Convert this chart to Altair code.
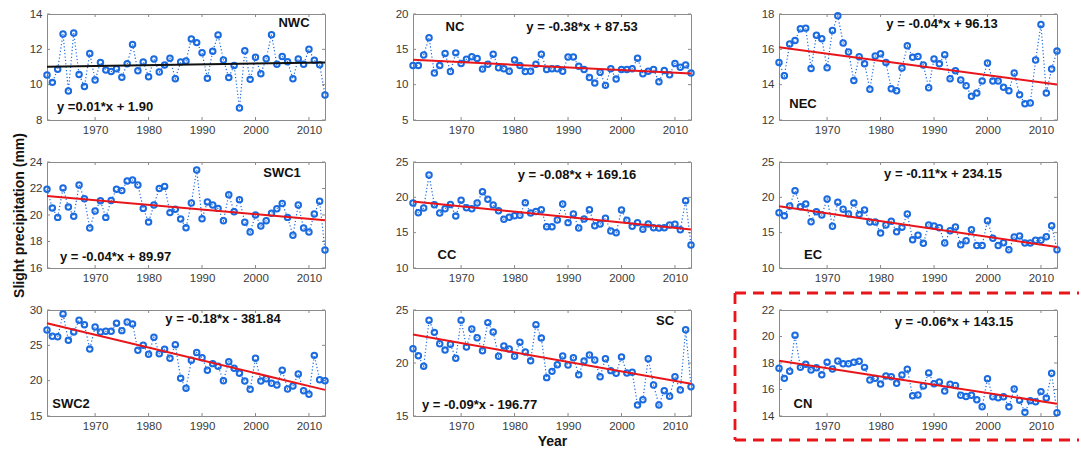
import altair as alt
import pandas as pd

years = list(range(1961, 2014))

nwc = [10.55, 10.13, 10.87, 12.87, 9.64, 12.92, 10.57, 9.89, 11.77, 10.26,
       11.25, 10.83, 10.74, 10.9, 10.42, 11.19, 12.28, 10.79, 11.28, 10.45,
       11.45, 10.72, 11.11, 11.49, 10.34, 11.28, 11.34, 12.58, 12.38, 11.81,
       10.36, 11.89, 12.81, 11.4, 10.4, 11.09, 8.68, 11.92, 10.3, 11.55,
       10.62, 11.47, 12.83, 11.15, 11.6, 11.3, 10.34, 11.45, 11.15, 12.0,
       11.38, 11.13, 9.42]
nc = [12.7, 12.7, 14.2, 16.65, 11.65, 12.7, 14.4, 11.85, 14.5, 13.0,
      13.6, 13.95, 13.7, 12.2, 12.9, 14.3, 12.4, 12.25, 11.9, 13.5,
      12.7, 11.85, 11.9, 12.9, 14.3, 12.15, 12.25, 12.25, 11.9, 13.9,
      13.9, 12.6, 12.15, 11.0, 10.25, 11.75, 9.9, 12.25, 10.8, 12.15,
      12.15, 12.25, 13.75, 11.55, 11.9, 12.15, 10.4, 12.0, 11.4, 13.0,
      12.45, 12.8, 11.65]
nec = [15.25, 14.5, 16.3, 16.5, 17.17, 17.2, 14.92, 16.8, 16.6, 14.96,
       17.06, 17.9, 16.36, 15.85, 14.23, 15.58, 15.19, 13.74, 15.62, 15.75,
       15.25, 13.77, 13.66, 14.94, 16.2, 15.55, 15.6, 15.11, 13.83, 15.45,
       15.19, 15.7, 14.34, 14.79, 14.26, 13.94, 13.34, 13.53, 14.21, 15.23,
       14.21, 14.21, 13.85, 13.66, 14.66, 13.43, 12.92, 12.96, 15.4, 17.4,
       13.53, 14.89, 15.9]
swc1 = [21.94, 20.53, 19.82, 22.04, 20.6, 19.9, 22.26, 21.23, 19.02, 20.3,
        21.08, 19.82, 21.1, 21.94, 21.84, 22.57, 22.64, 22.26, 20.5, 19.47,
        20.75, 22.0, 22.16, 20.18, 20.43, 19.7, 19.04, 20.9, 23.4, 19.72,
        20.98, 20.75, 20.5, 19.57, 21.53, 20.25, 21.16, 19.45, 18.72, 20.0,
        19.17, 19.57, 20.13, 20.48, 20.86, 19.82, 18.47, 20.75, 19.02, 18.72,
        20.08, 21.03, 17.36]
cc = [19.2, 17.83, 18.49, 23.16, 18.96, 17.78, 18.4, 19.0, 17.36, 19.58,
      18.54, 18.4, 19.2, 20.8, 19.72, 18.92, 18.11, 16.89, 17.17, 17.4,
      17.45, 19.25, 17.78, 18.0, 18.25, 15.85, 15.85, 16.79, 19.06, 16.42,
      17.64, 15.66, 16.93, 18.25, 15.99, 16.23, 17.03, 15.24, 15.0, 18.2,
      16.75, 15.9, 16.42, 15.47, 16.23, 15.7, 15.66, 15.7, 16.08, 16.18,
      15.42, 19.53, 13.25]
ec = [17.83, 17.4, 18.77, 20.94, 18.68, 19.06, 16.56, 17.97, 17.5, 19.76,
      15.9, 19.29, 18.3, 17.64, 19.2, 17.59, 18.2, 16.5, 16.5, 14.95,
      16.08, 16.6, 15.14, 15.75, 17.64, 14.0, 14.62, 13.49, 16.08, 15.94,
      15.7, 13.54, 15.28, 15.8, 13.3, 13.87, 15.42, 13.2, 13.2, 16.7,
      14.2, 13.2, 13.58, 12.59, 14.39, 14.53, 13.54, 13.54, 13.92, 13.92,
      14.43, 15.99, 12.59]
swc2 = [27.17, 26.27, 26.23, 29.43, 25.71, 26.89, 28.54, 27.92, 24.48, 27.59,
        26.89, 26.98, 26.98, 28.11, 27.08, 28.3, 28.02, 24.29, 25.0, 23.73,
        26.13, 23.82, 24.43, 23.16, 25.09, 20.33, 18.92, 22.88, 24.0, 23.25,
        21.46, 22.41, 22.03, 20.0, 22.69, 21.75, 21.04, 19.95, 18.77, 23.16,
        19.95, 20.28, 19.62, 19.39, 21.46, 18.82, 19.25, 20.94, 18.58, 18.07,
        23.58, 20.14, 20.0]
sc = [21.35, 20.69, 19.69, 24.03, 22.89, 21.82, 21.23, 21.76, 20.44, 24.03,
      21.51, 23.21, 22.39, 21.16, 23.81, 22.92, 20.63, 21.6, 21.32, 20.63,
      21.95, 21.04, 20.22, 23.62, 22.36, 18.62, 19.21, 19.84, 20.66, 19.81,
      20.5, 18.9, 20.19, 20.75, 20.28, 18.71, 20.41, 19.28, 19.03, 20.57,
      19.06, 19.12, 16.04, 16.54, 20.41, 17.92, 16.04, 17.39, 16.86, 18.71,
      17.45, 23.14, 17.77]
cn = [17.6, 16.84, 17.37, 20.09, 17.67, 17.9, 17.47, 17.65, 17.12, 18.05,
      17.55, 18.15, 17.95, 17.95, 18.05, 18.13, 17.67, 16.72, 16.84, 16.42,
      17.02, 16.97, 16.47, 17.09, 17.52, 15.53, 15.58, 16.26, 17.25, 16.44,
      16.57, 15.89, 16.39, 16.31, 15.56, 15.48, 15.56, 15.23, 14.7, 16.82,
      15.46, 15.38, 15.46, 14.7, 16.04, 15.18, 14.28, 15.16, 15.08, 15.84,
      15.36, 17.22, 14.25]

regions = ["NWC", "NC", "NEC", "SWC1", "CC", "EC", "SWC2", "SC", "CN"]
series = [nwc, nc, nec, swc1, cc, ec, swc2, sc, cn]
equations = ["y =0.01*x + 1.90", "y = -0.38*x + 87.53", "y = -0.04*x + 96.13",
             "y = -0.04*x + 89.97", "y = -0.08*x + 169.16", "y = -0.11*x + 234.15",
             "y = -0.18*x - 381.84", "y = -0.09*x - 196.77", "y = -0.06*x + 143.15"]
y_domains = [[8, 14], [5, 20], [12, 18], [16, 24], [10, 25], [10, 25],
             [15, 30], [15, 25], [14, 22]]
y_ticks = [[8, 10, 12, 14], [5, 10, 15, 20], [12, 14, 16, 18], [16, 18, 20, 22, 24],
           [10, 15, 20, 25], [10, 15, 20, 25], [15, 20, 25, 30], [15, 20, 25],
           [14, 16, 18, 20, 22]]
x_ticks = [1970, 1980, 1990, 2000, 2010]

# styling / placement (pixels inside each panel)
W, H = 278, 106
TK = 3
BLUE = "#1a6ae0"
RED = "#e8161b"
FRAME = "#8a8a8a"
FONT = "Liberation Sans"
fit_colors = ["#111111"] + [RED] * 8
label_pos = [(247, 9), (42, 13), (24, 90), (235, 11), (34, 93), (34, 93),
             (24, 94), (252, 11), (24, 94)]
eq_pos = [(10, 93, "left"), (169, 13, "center"), (163, 10, "center"),
          (13, 95, "left"), (164, 13, "center"), (164, 12, "center"),
          (176, 9, "center"), (9, 95, "left"), (175, 12, "center")]


def panel(i):
    df = pd.DataFrame({"Year": years, "Value": series[i]})
    xkw = dict(scale=alt.Scale(domain=[1961, 2013], nice=False, zero=False),
               axis=alt.Axis(values=x_ticks, format="d"))
    ykw = dict(scale=alt.Scale(domain=y_domains[i], nice=False, zero=False),
               axis=alt.Axis(values=y_ticks[i]))
    xtitle = "Year" if regions[i] == "SC" else None
    ytitle = "Slight precipitation (mm)" if regions[i] == "SWC1" else None
    x = alt.X("Year:Q", title=xtitle, **xkw)
    y = alt.Y("Value:Q", title=ytitle, **ykw)
    base = alt.Chart(df)
    line = base.mark_line(color=BLUE, strokeDash=[1.2, 2.2], strokeWidth=1.2).encode(x=x, y=y)
    pts = base.mark_point(shape="circle", filled=False, color=BLUE, size=30,
                          strokeWidth=2, opacity=1).encode(x=x, y=y)
    fit = base.transform_regression("Year", "Value", extent=[1961, 2013]).mark_line(
        color=fit_colors[i], strokeWidth=2).encode(x=x, y=y)

    # inward ticks on all four sides (MATLAB box style)
    xt = alt.Chart(pd.DataFrame({"Year": x_ticks}))
    yt = alt.Chart(pd.DataFrame({"Value": y_ticks[i]}))
    tick_style = dict(color=FRAME, strokeWidth=1)
    xt_b = xt.mark_rule(**tick_style).encode(x=x, y=alt.value(H), y2=alt.value(H - TK))
    xt_t = xt.mark_rule(**tick_style).encode(x=x, y=alt.value(0), y2=alt.value(TK))
    yt_l = yt.mark_rule(**tick_style).encode(y=y, x=alt.value(0), x2=alt.value(TK))
    yt_r = yt.mark_rule(**tick_style).encode(y=y, x=alt.value(W), x2=alt.value(W - TK))

    lx, ly = label_pos[i]
    lab = alt.Chart(pd.DataFrame({"t": [regions[i]]})).mark_text(
        font=FONT, fontSize=13, fontWeight="bold", color="#111111",
        align="center", baseline="middle").encode(
        text="t:N", x=alt.value(lx), y=alt.value(ly))
    ex, ey, ea = eq_pos[i]
    eq = alt.Chart(pd.DataFrame({"t": [equations[i]]})).mark_text(
        font=FONT, fontSize=13, fontWeight="bold", color="#111111",
        align=ea, baseline="middle").encode(
        text="t:N", x=alt.value(ex), y=alt.value(ey))
    layers = [xt_b, xt_t, yt_l, yt_r, line, pts, fit, lab, eq]
    if regions[i] == "CN":
        one = pd.DataFrame({"a": [0]})
        dash = dict(color=RED, strokeDash=[11, 7], strokeWidth=2.8)
        top = alt.Chart(one).mark_rule(**dash).encode(
            x=alt.value(-44), x2=alt.value(300), y=alt.value(-17))
        bot = alt.Chart(one).mark_rule(**dash).encode(
            x=alt.value(-44), x2=alt.value(300), y=alt.value(130))
        left = alt.Chart(one).mark_rule(**dash).encode(
            x=alt.value(-44), y=alt.value(-17), y2=alt.value(130))
        layers += [top, bot, left]
    return alt.layer(*layers).properties(width=W, height=H)


chart = alt.concat(*[panel(i) for i in range(9)], columns=3,
                   spacing={"row": 42, "column": 88}, bounds="flush").properties(
    padding={"left": 11, "top": 7, "right": 0, "bottom": 2}
).configure_view(
    stroke=FRAME, strokeWidth=1
).configure_axis(
    grid=False, ticks=False, domain=False,
    labelFont=FONT, labelFontSize=11.5, labelColor="#3a3a3a", labelPadding=5,
    titleFont=FONT, titleFontSize=14, titleFontWeight="bold", titleColor="#111111",
    titlePadding=3
).configure_axisX(labelPadding=4)

chart.save("out.html", embed_options={"renderer": "svg", "actions": False})
